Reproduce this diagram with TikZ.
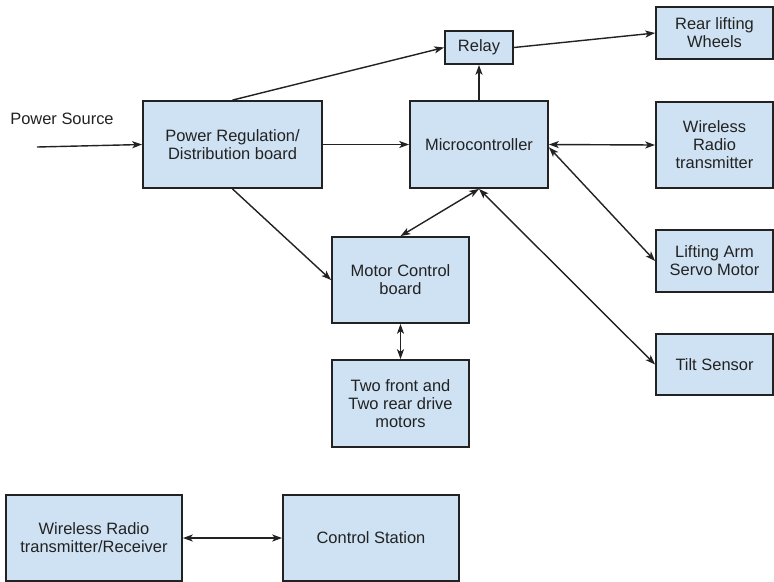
\documentclass[tikz,border=0pt]{standalone}
\usepackage{fontspec}
\setmainfont{Liberation Sans}
\usetikzlibrary{arrows.meta}
\definecolor{boxfill}{HTML}{CFE2F3}
\definecolor{ink}{HTML}{222222}

\begin{document}
\begin{tikzpicture}[x=0.025cm, y=-0.025cm,
  blk/.style={draw=ink, fill=boxfill, line width=1.3pt, inner sep=0pt,
    align=center, text=ink, font=\fontsize{11.7}{12.8}\selectfont},
  link/.style={draw=ink, line width=1pt, -{Stealth[length=7pt,width=5pt,inset=1.8pt]}},
  both/.style={link, {Stealth[length=7pt,width=5pt,inset=1.8pt]}-{Stealth[length=7pt,width=5pt,inset=1.8pt]}}]

\useasboundingbox (0,0) rectangle (774,581);

% top row
\node [blk, minimum width=4.475cm, minimum height=2.175cm] (power) at (232.5,144.5) {Power Regulation/\\Distribution board};
\node [blk, minimum width=3.45cm, minimum height=2.175cm] (micro) at (479,144.5) {Microcontroller};
\node [blk, minimum width=1.7cm, minimum height=0.825cm] (relay) at (479,47.5) {Relay};
\node [text=ink, font=\fontsize{11.7}{12.8}\selectfont] (srclabel) at (62,119) {Power Source};
\coordinate (src) at (37,147);

% right column
\node [blk, minimum width=2.925cm, minimum height=1.3cm] (rear) at (714.5,33) {Rear lifting\\Wheels};
\node [blk, minimum width=2.925cm, minimum height=2.15cm] (radio) at (714.5,145) {Wireless\\Radio\\transmitter};
\node [blk, minimum width=2.925cm, minimum height=1.55cm] (servo) at (714.5,261) {Lifting Arm\\Servo Motor};
\node [blk, minimum width=2.925cm, minimum height=1.525cm] (tilt) at (714.5,364.5) {Tilt Sensor};

% motors
\node [blk, minimum width=3.425cm, minimum height=2.15cm] (motorctl) at (400.5,280) {Motor Control\\board};
\node [blk, minimum width=3.425cm, minimum height=2.175cm] (drive) at (400.5,403.5) {Two front and\\Two rear drive\\motors};

% base station
\node [blk, minimum width=4.4cm, minimum height=2.15cm] (trx) at (94,538) {Wireless Radio\\transmitter/Receiver};
\node [blk, minimum width=4.4cm, minimum height=2.15cm] (station) at (371,538) {Control Station};

\draw [link] (src) -- (power.west);
\draw [link] (power.north) -- (relay.west);
\draw [link] (power.east) -- (micro.west);
\draw [link] (power.south) -- (motorctl.west);
\draw [link] (micro.north) -- (relay.south);
\draw [link] (relay.east) -- (rear.west);
\draw [both] (micro.east) -- (radio.west);
\draw [both] ([yshift=-2pt]micro.east) -- (servo.west);
\draw [both] (micro.south) -- (motorctl.north);
\draw [both] (micro.south) -- (tilt.west);
\draw [both] (motorctl.south) -- (drive.north);
\draw [both] (trx.east) -- (station.west);

\end{tikzpicture}
\end{document}
